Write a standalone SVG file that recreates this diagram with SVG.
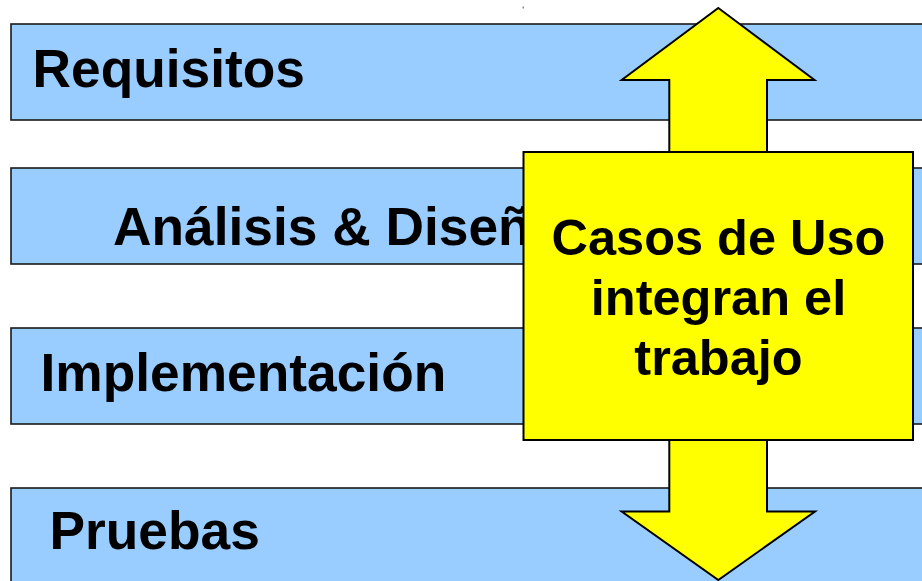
<svg xmlns="http://www.w3.org/2000/svg" width="922" height="581" viewBox="0 0 922 581">
<style>
.bar{fill:#99ccff;stroke:#1a1a1a;stroke-width:1.6}
.lbl{font-family:"Liberation Sans",Arial,sans-serif;font-weight:bold;font-size:53.3px;fill:#000}
.arrow{fill:#ffff00;stroke:#000;stroke-width:2;stroke-linejoin:miter}
.box{fill:#ffff00;stroke:#000;stroke-width:2}
.ctr{font-family:"Liberation Sans",Arial,sans-serif;font-weight:bold;font-size:50.5px;fill:#000;text-anchor:middle}
</style>
<rect x="0" y="0" width="922" height="581" fill="#fff"/>
<rect x="522.5" y="6.5" width="1.5" height="2" fill="#888"/>
<g id="requisitos">
<rect class="bar" x="11" y="24" width="930" height="96"/>
<text class="lbl" x="32.5" y="87">Requisitos</text>
</g>
<g id="analisis">
<rect class="bar" x="11" y="168" width="930" height="96"/>
<text class="lbl" x="113" y="245">Análisis &amp; Diseño</text>
</g>
<g id="implementacion">
<rect class="bar" x="11" y="328" width="930" height="96"/>
<text class="lbl" x="40.5" y="391">Implementación</text>
</g>
<g id="pruebas">
<rect class="bar" x="11" y="488" width="930" height="120"/>
<text class="lbl" x="49.5" y="548.5">Pruebas</text>
</g>
<g id="casos-de-uso">
<polygon class="arrow" points="718.3,8 814.5,80 767,80 767,511.5 815,511.5 718.3,580 621.7,511.5 669.3,511.5 669.3,80 621.7,80"/>
<rect class="box" x="523.5" y="152" width="389.5" height="288"/>
<text class="ctr" x="718.5" y="255">Casos de Uso</text>
<text class="ctr" x="718.5" y="315">integran el</text>
<text class="ctr" x="718.5" y="375">trabajo</text>
</g>
</svg>
